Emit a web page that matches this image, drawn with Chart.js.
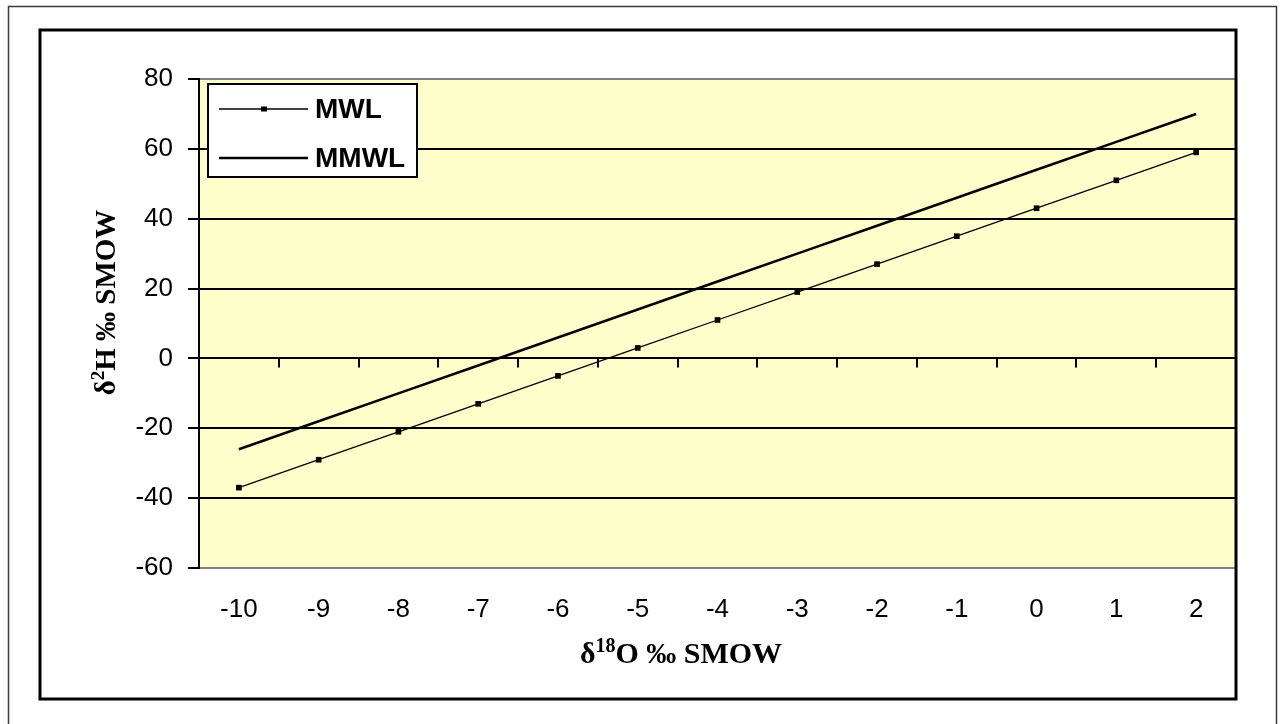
<!DOCTYPE html>
<html>
<head>
<meta charset="utf-8">
<title>MWL / MMWL</title>
<script src="https://cdn.jsdelivr.net/npm/chart.js@4/dist/chart.umd.min.js"></script>
<style>
  body { margin: 0; background: #ffffff; }
  canvas { display: block; }
</style>
</head>
<body>
<canvas id="isotopeChart" width="1283" height="724"></canvas>
<script>
// d18O categories and d2H values
const d18O = ['-10', '-9', '-8', '-7', '-6', '-5', '-4', '-3', '-2', '-1', '0', '1', '2'];
const mwl = [-37, -29, -21, -13, -5, 3, 11, 19, 27, 35, 43, 51, 59];
const mmwl = [-26, -18, -10, -2, 6, 14, 22, 30, 38, 46, 54, 62, 70];
const yTicks = [-60, -40, -20, 0, 20, 40, 60, 80];

const sans = '"Liberation Sans", Arial, sans-serif';
const serif = '"Liberation Serif", "Times New Roman", serif';

// frames, plot background, axis titles, tick marks on the zero line, legend
const decorations = {
    id: 'decorations',
    beforeDraw(chart) {
        const ctx = chart.ctx;
        const a = chart.chartArea;
        ctx.save();
        ctx.fillStyle = '#ffffff';
        ctx.fillRect(0, 0, chart.width, chart.height);
        // outer thin frame (runs off the bottom of the page)
        ctx.strokeStyle = '#3a3a3a';
        ctx.lineWidth = 1.5;
        ctx.beginPath();
        ctx.moveTo(8.5, chart.height);
        ctx.lineTo(8.5, 6.5);
        ctx.lineTo(1276.5, 6.5);
        ctx.lineTo(1276.5, chart.height);
        ctx.stroke();
        // plot background
        ctx.fillStyle = '#ffffcc';
        ctx.fillRect(a.left, a.top, a.right - a.left, a.bottom - a.top);
        ctx.restore();
    },
    afterDraw(chart) {
        const ctx = chart.ctx;
        const a = chart.chartArea;
        const x = chart.scales.x;
        const y = chart.scales.y;
        ctx.save();

        // chart frame
        ctx.strokeStyle = '#000000';
        ctx.lineWidth = 3;
        ctx.strokeRect(40, 30, a.right - 40, 669);

        // tick marks on the zero line, between categories
        const y0 = y.getPixelForValue(0);
        const step = (x.getPixelForValue(1) - x.getPixelForValue(0));
        ctx.lineWidth = 2;
        ctx.beginPath();
        for (let i = 0; i <= d18O.length; i++) {
            const px = Math.round(x.getPixelForValue(0) - step / 2 + i * step);
            ctx.moveTo(px, y0);
            ctx.lineTo(px, y0 + 9);
        }
        ctx.stroke();

        // y title
        ctx.fillStyle = '#000000';
        ctx.save();
        ctx.translate(115, (a.top + a.bottom) / 2 - 21);
        ctx.rotate(-Math.PI / 2);
        drawSupText(ctx, [['δ', 0], ['2', 1], ['H ‰ SMOW', 0]], 0, 0, 29);
        ctx.restore();

        // x title
        drawSupText(ctx, [['δ', 0], ['18', 1], ['O ‰ SMOW', 0]], 681, 663, 30);

        // legend box
        const lx = a.left + 9, ly = a.top + 5, lw = 209, lh = 93;
        ctx.fillStyle = '#ffffff';
        ctx.fillRect(lx, ly, lw, lh);
        ctx.strokeStyle = '#000000';
        ctx.lineWidth = 2;
        ctx.strokeRect(lx, ly, lw, lh);
        const rows = [ly + 25, ly + 74];
        chart.data.datasets.forEach((ds, i) => {
            const ry = rows[i];
            ctx.strokeStyle = '#000000';
            ctx.lineWidth = ds.borderWidth;
            ctx.beginPath();
            ctx.moveTo(lx + 11, ry);
            ctx.lineTo(lx + 100, ry);
            ctx.stroke();
            if (ds.pointRadius > 0) {
                ctx.fillStyle = '#000000';
                ctx.fillRect(lx + 53, ry - 2.5, 6, 5);
            }
            ctx.fillStyle = '#000000';
            ctx.font = 'bold 28px ' + sans;
            ctx.textAlign = 'left';
            ctx.textBaseline = 'middle';
            ctx.fillText(ds.label, lx + 107, ry + 1);
        });
        ctx.restore();
    }
};

// text centred on (cx, cy baseline) with superscript parts
function drawSupText(ctx, parts, cx, cy, size) {
    const fonts = parts.map(p => 'bold ' + (p[1] ? Math.round(size * 0.65) : size) + 'px ' + serif);
    let total = 0;
    parts.forEach((p, i) => { ctx.font = fonts[i]; total += ctx.measureText(p[0]).width; });
    let px = cx - total / 2;
    ctx.textAlign = 'left';
    ctx.textBaseline = 'alphabetic';
    parts.forEach((p, i) => {
        ctx.font = fonts[i];
        ctx.fillText(p[0], px, p[1] ? cy - size * 0.38 : cy);
        px += ctx.measureText(p[0]).width;
    });
}

const config = {
    type: 'line',
    data: {
        labels: d18O,
        datasets: [{
            label: 'MWL',
            data: mwl,
            borderColor: '#000000',
            backgroundColor: '#000000',
            borderWidth: 1.3,
            pointStyle: 'rect',
            pointRadius: 4,
            pointBorderWidth: 0,
            tension: 0
        }, {
            label: 'MMWL',
            data: mmwl,
            borderColor: '#000000',
            backgroundColor: '#000000',
            borderWidth: 2.6,
            pointRadius: 0,
            tension: 0
        }]
    },
    options: {
        responsive: false,
        animation: false,
        layout: {
            padding: { left: 40, right: 47, top: 79, bottom: 56 }
        },
        plugins: {
            legend: { display: false },
            tooltip: { enabled: false }
        },
        scales: {
            x: {
                type: 'category',
                offset: true,
                afterFit: s => { s.height = 100; },
                grid: { display: false, drawTicks: false },
                border: { display: true, color: '#808080', width: 2 },
                ticks: {
                    color: '#000000',
                    font: { family: sans, size: 26 },
                    padding: 26,
                    maxRotation: 0,
                    autoSkip: false
                }
            },
            y: {
                min: -60,
                max: 80,
                afterFit: s => { s.width = 159; },
                afterBuildTicks: s => { s.ticks = yTicks.map(v => ({ value: v })); },
                grid: {
                    color: c => (c.tick && (c.tick.value === -60 || c.tick.value === 80)) ? '#808080' : '#000000',
                    tickColor: '#000000',
                    lineWidth: 2,
                    tickLength: 11
                },
                border: { display: true, color: '#000000', width: 2 },
                ticks: {
                    color: '#000000',
                    font: { family: sans, size: 26 },
                    padding: 15
                }
            }
        }
    },
    plugins: [decorations]
};

const ctx = document.getElementById('isotopeChart').getContext('2d');
new Chart(ctx, config);
</script>
</body>
</html>
